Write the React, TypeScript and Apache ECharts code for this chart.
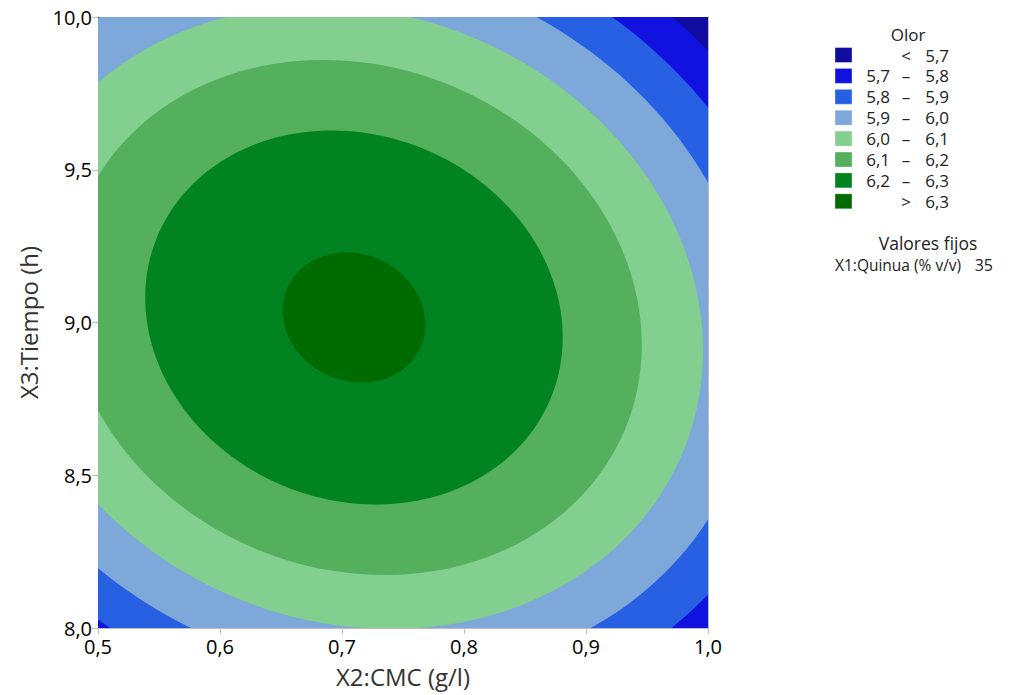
import { useEffect, useRef } from "react";
import * as echarts from "echarts";

// Contour levels of the fitted response "Olor"
const contourLevels = [5.7, 5.8, 5.9, 6.0, 6.1, 6.2, 6.3];
// Half-width (X2, g/l) and half-height (X3, h) of each contour ellipse
const contourHalfWidth = [0.4015, 0.3671, 0.3293, 0.2861, 0.2359, 0.1711, 0.0585];
const contourHalfHeight = [1.432, 1.309, 1.174, 1.02, 0.843, 0.612, 0.213];
// Stationary point of the surface and the X2–X3 coupling of the ellipses
const optimumCMC = 0.7098;
const optimumTiempo = 9.0164;
const contourCoupling = -0.106;

const cmcTicks = [0.5, 0.6, 0.7, 0.8, 0.9, 1.0];
const tiempoTicks = [8.0, 8.5, 9.0, 9.5, 10.0];

const bandColors = [
  "#100ca0",
  "#1212e0",
  "#2760e2",
  "#7ea7da",
  "#82cf90",
  "#54b05c",
  "#008320",
  "#006b00",
];

const fixedFactorName = "X1:Quinua (% v/v)";
const fixedFactorValue = "35";

const FONT = "'Open Sans', 'Noto Sans', sans-serif";
const fmt = (v: number) => v.toFixed(1).replace(".", ",");

function legendGraphics() {
  const els: any[] = [];
  const x0 = 835;
  const y0 = 55;
  const step = 20.9;
  els.push({
    type: "text",
    x: 908,
    y: 34,
    style: { text: "Olor", font: `17px ${FONT}`, fill: "#222", textAlign: "center", textVerticalAlign: "middle" },
  });
  for (let i = 0; i < bandColors.length; i++) {
    const cy = y0 + i * step;
    els.push({
      type: "rect",
      shape: { x: x0, y: cy - 7.5, width: 17, height: 15 },
      style: { fill: bandColors[i], stroke: "rgba(255,255,255,0.35)", lineWidth: 1 },
    });
    let lo = "";
    let sep = "";
    let hi = "";
    if (i === 0) {
      sep = "<";
      hi = fmt(contourLevels[0]);
    } else if (i === bandColors.length - 1) {
      sep = ">";
      hi = fmt(contourLevels[contourLevels.length - 1]);
    } else {
      lo = fmt(contourLevels[i - 1]);
      sep = "–";
      hi = fmt(contourLevels[i]);
    }
    const ts = { font: `17px ${FONT}`, fill: "#222", textVerticalAlign: "middle" };
    if (lo)
      els.push({ type: "text", x: 890, y: cy, style: { ...ts, text: lo, textAlign: "right" } });
    els.push({ type: "text", x: 906, y: cy, style: { ...ts, text: sep, textAlign: "center" } });
    els.push({ type: "text", x: 949, y: cy, style: { ...ts, text: hi, textAlign: "right" } });
  }
  els.push({
    type: "text",
    x: 928,
    y: 243,
    style: { text: "Valores fijos", font: `17.5px ${FONT}`, fill: "#222", textAlign: "center", textVerticalAlign: "middle" },
  });
  els.push({
    type: "text",
    x: 835,
    y: 265,
    style: { text: fixedFactorName, font: `15.5px ${FONT}`, fill: "#222", textVerticalAlign: "middle" },
  });
  els.push({
    type: "text",
    x: 993,
    y: 265,
    style: { text: fixedFactorValue, font: `16px ${FONT}`, fill: "#222", textAlign: "right", textVerticalAlign: "middle" },
  });
  return els;
}

export default function App() {
  const ref = useRef<HTMLDivElement>(null);

  useEffect(() => {
    if (!ref.current) return;
    const chart = echarts.init(ref.current, undefined, { renderer: "svg" });
    const xMin = cmcTicks[0];
    const xMax = cmcTicks[cmcTicks.length - 1];
    const yMin = tiempoTicks[0];
    const yMax = tiempoTicks[tiempoTicks.length - 1];
    const border = "#bdbdbd";

    // one item per colour band: item 0 is the region below the lowest level
    const bandData = bandColors.map((_, i) => [optimumCMC, optimumTiempo, i]);

    const option: any = {
      animation: false,
      backgroundColor: "#ffffff",
      grid: {
        left: 98,
        top: 17,
        right: 316,
        bottom: 67,
        outerBoundsMode: "none",
      },
      xAxis: [
        {
          type: "value",
          min: xMin,
          max: xMax,
          interval: 0.1,
          position: "bottom",
          name: "X2:CMC (g/l)",
          nameLocation: "middle",
          nameGap: 35,
          nameTextStyle: { fontSize: 24, color: "#333", fontFamily: FONT, lineHeight: 26 },
          axisLine: { show: true, onZero: false, lineStyle: { color: border } },
          axisTick: { show: true, length: 6, lineStyle: { color: border } },
          axisLabel: { fontSize: 20, color: "#000", margin: 8, fontFamily: FONT, formatter: (v: number) => fmt(v) },
          splitLine: { show: false },
        },
        {
          type: "value",
          min: xMin,
          max: xMax,
          position: "top",
          axisLine: { show: true, onZero: false, lineStyle: { color: border } },
          axisTick: { show: false },
          axisLabel: { show: false },
          splitLine: { show: false },
        },
      ],
      yAxis: [
        {
          type: "value",
          min: yMin,
          max: yMax,
          interval: 0.5,
          position: "left",
          name: "X3:Tiempo (h)",
          nameLocation: "middle",
          nameGap: 58,
          nameTextStyle: { fontSize: 24, color: "#333", fontFamily: FONT },
          axisLine: { show: true, onZero: false, lineStyle: { color: border } },
          axisTick: { show: true, length: 6, lineStyle: { color: border } },
          axisLabel: { fontSize: 20, color: "#000", margin: 6, fontFamily: FONT, formatter: (v: number) => fmt(v) },
          splitLine: { show: false },
        },
        {
          type: "value",
          min: yMin,
          max: yMax,
          position: "right",
          axisLine: { show: true, onZero: false, lineStyle: { color: border } },
          axisTick: { show: false },
          axisLabel: { show: false },
          splitLine: { show: false },
        },
      ],
      series: [
        {
          type: "custom",
          clip: true,
          xAxisIndex: 0,
          yAxisIndex: 0,
          data: bandData,
          renderItem: (params: any, api: any) => {
            const band = params.dataIndex;
            if (band === 0) {
              const p0 = api.coord([xMin, yMax]);
              const p1 = api.coord([xMax, yMin]);
              return {
                type: "rect",
                shape: { x: p0[0], y: p0[1], width: p1[0] - p0[0], height: p1[1] - p0[1] },
                style: { fill: bandColors[0] },
              };
            }
            const k = band - 1;
            const w = contourHalfWidth[k];
            const h = contourHalfHeight[k];
            const rho = contourCoupling;
            const s = Math.sqrt(1 - rho * rho);
            const cx = api.value(0);
            const cy = api.value(1);
            const pts: number[][] = [];
            const n = 200;
            for (let j = 0; j < n; j++) {
              const t = (j / n) * Math.PI * 2;
              const c = Math.cos(t);
              const sn = Math.sin(t);
              pts.push(api.coord([cx + w * c, cy + h * (rho * c + s * sn)]));
            }
            return {
              type: "polygon",
              shape: { points: pts },
              style: { fill: bandColors[band] },
            };
          },
        },
      ],
      graphic: legendGraphics(),
    };
    chart.setOption(option);
    return () => chart.dispose();
  }, []);

  return (
    <div
      ref={ref}
      style={{ position: "fixed", left: 0, top: 0, width: 1024, height: 695, background: "#fff" }}
    />
  );
}
